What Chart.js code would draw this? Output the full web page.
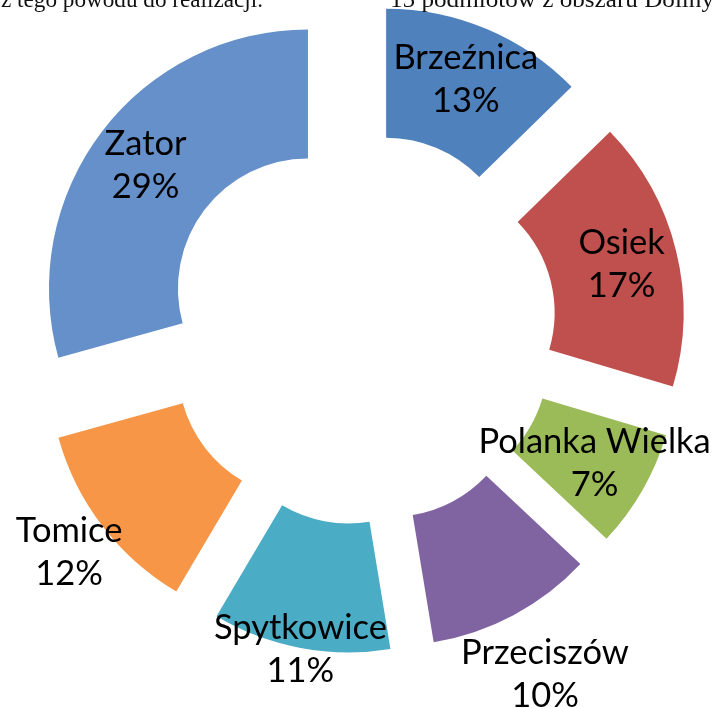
<!DOCTYPE html>
<html>
<head>
<meta charset="utf-8">
<script src="https://cdn.jsdelivr.net/npm/chart.js@4/dist/chart.umd.min.js"></script>
<style>
html,body{margin:0;padding:0;background:#ffffff;overflow:hidden;}
#wrap{position:relative;width:713px;height:708px;}
</style>
</head>
<body>
<div id="wrap"><canvas id="c" width="713" height="708"></canvas></div>
<script>
// ---- data (shares; labels show rounded percent) ----
const categories = ['Brzeźnica', 'Osiek', 'Polanka Wielka', 'Przeciszów', 'Spytkowice', 'Tomice', 'Zator'];
const shares = [12.7, 16.9, 7.4, 10.4, 11.1, 12.2, 29.3];
const pageTextLeft = 'z tego powodu do realizacji.';
const pageTextRight = '15 podmiotów z obszaru Doliny';

// ---- style ----
const colors = ['#4F81BD', '#C0504D', '#9BBB59', '#8064A2', '#4BACC6', '#F79646', '#6590C9'];
const EXPLODE = 66;                                   // px each slice is pulled out
const labelDist = [205, 203, 204, 326, 260, 301, 204]; // label distance beyond explosion
const LABEL_FONT = '34.5px Lato';
const PAGE_FONT = '23px "Liberation Serif"';
const pageTextBoxes = [{ x: 1, w: 262 }, { x: 390, w: 324 }]; // target text widths

// pull each slice out along its bisector (keeps radii equal for every slice)
const ArcProto = Chart.ArcElement.prototype;
const origDraw = ArcProto.draw;
ArcProto.draw = function (ctx) {
  const half = (this.startAngle + this.endAngle) / 2;
  ctx.save();
  ctx.translate(Math.cos(half) * EXPLODE, Math.sin(half) * EXPLODE);
  origDraw.call(this, ctx);
  ctx.restore();
};

const labelPlugin = {
  id: 'sliceLabels',
  afterDatasetsDraw(chart) {
    const ctx = chart.ctx;
    const meta = chart.getDatasetMeta(0);
    const total = shares.reduce((a, b) => a + b, 0);
    ctx.save();
    ctx.fillStyle = '#000000';
    ctx.font = LABEL_FONT;
    ctx.textAlign = 'center';
    ctx.textBaseline = 'alphabetic';
    meta.data.forEach((arc, i) => {
      const half = (arc.startAngle + arc.endAngle) / 2;
      const r = EXPLODE + labelDist[i];
      const x = arc.x + Math.cos(half) * r;
      const y = arc.y + Math.sin(half) * r;
      const pct = Math.round(shares[i] / total * 100);
      ctx.fillText(categories[i], x, y - 10);
      ctx.fillText(pct + '%', x, y + 33);
    });
    ctx.restore();
  }
};

const pageTextPlugin = {
  id: 'pageText',
  afterDraw(chart) {
    const ctx = chart.ctx;
    const texts = [pageTextLeft, pageTextRight];
    ctx.save();
    ctx.fillStyle = '#111111';
    ctx.font = PAGE_FONT;
    ctx.textAlign = 'left';
    ctx.textBaseline = 'alphabetic';
    texts.forEach((t, i) => {
      const box = pageTextBoxes[i];
      const w = ctx.measureText(t).width;
      ctx.save();
      ctx.translate(box.x, 7);
      ctx.scale(box.w / w, 1);
      ctx.fillText(t, 0, 0);
      ctx.restore();
    });
    ctx.restore();
  }
};

new Chart(document.getElementById('c'), {
  type: 'doughnut',
  data: {
    labels: categories,
    datasets: [{
      data: shares,
      backgroundColor: colors,
      borderWidth: 0
    }]
  },
  options: {
    responsive: false,
    animation: false,
    events: [],
    radius: 259,
    cutout: '50.2%',
    layout: { padding: { left: 8, right: 0, top: 0, bottom: 51 } },
    plugins: {
      legend: { display: false },
      tooltip: { enabled: false },
      title: { display: false }
    }
  },
  plugins: [labelPlugin, pageTextPlugin]
});
</script>
</body>
</html>
